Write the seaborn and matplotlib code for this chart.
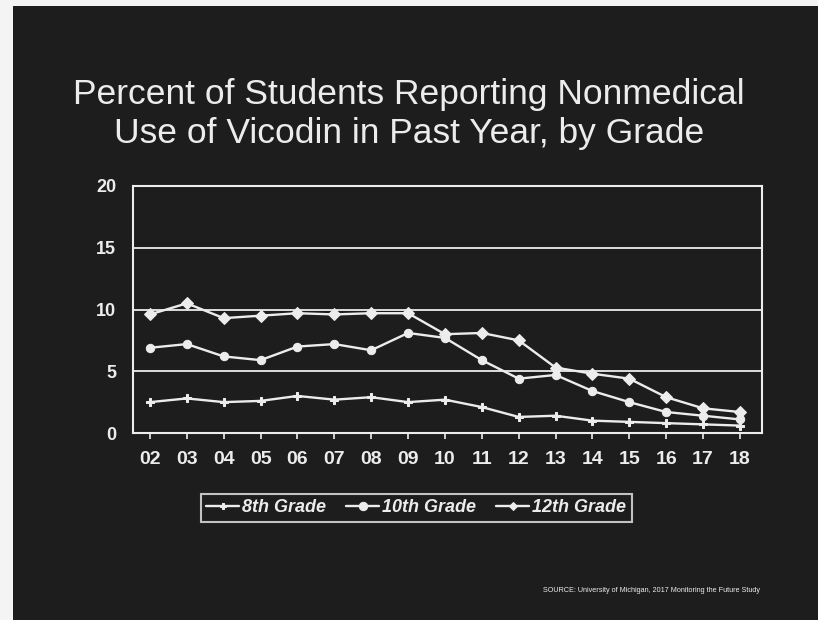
import matplotlib
matplotlib.use("Agg")
import matplotlib.pyplot as plt
from matplotlib.patches import Rectangle
import seaborn as sns
import pandas as pd

years = ["02", "03", "04", "05", "06", "07", "08", "09", "10",
         "11", "12", "13", "14", "15", "16", "17", "18"]
grade8 = [2.5, 2.8, 2.5, 2.6, 3.0, 2.7, 2.9, 2.5, 2.7, 2.1, 1.3, 1.4, 1.0, 0.9, 0.8, 0.7, 0.6]
grade10 = [6.9, 7.2, 6.2, 5.9, 7.0, 7.2, 6.7, 8.1, 7.7, 5.9, 4.4, 4.7, 3.4, 2.5, 1.7, 1.4, 1.1]
grade12 = [9.6, 10.5, 9.3, 9.5, 9.7, 9.6, 9.7, 9.7, 8.0, 8.1, 7.5, 5.3, 4.8, 4.4, 2.9, 2.0, 1.7]
series_names = ["8th Grade", "10th Grade", "12th Grade"]
y_ticks = [0, 5, 10, 15, 20]

df = pd.concat([
    pd.DataFrame({"Year": years, "Percent": vals, "Grade": name})
    for name, vals in zip(series_names, [grade8, grade10, grade12])
])

BG = "#1d1d1d"
FG = "#ececec"

sns.set_theme(style="dark")
plt.rcParams["font.family"] = ["Liberation Sans", "DejaVu Sans"]

fig = plt.figure(figsize=(8.18, 6.2), dpi=100, facecolor=BG)
# light slide margin on the left and top edges
fig.patches.append(Rectangle((0, 0), 13 / 818, 1, transform=fig.transFigure,
                             facecolor="#f4f4f4", edgecolor="none", zorder=0))
fig.patches.append(Rectangle((0, 1 - 6 / 620), 1, 6 / 620, transform=fig.transFigure,
                             facecolor="#f4f4f4", edgecolor="none", zorder=0))

ax = fig.add_axes([0.1626, 0.3016, 0.769, 0.3984])
ax.set_facecolor(BG)

# horizontal reference lines behind the data
for v in y_ticks[1:]:
    ax.axhline(v, color=FG, lw=1.3, zorder=1)

sns.lineplot(
    data=df, x="Year", y="Percent", hue="Grade", style="Grade",
    palette=[FG, FG, FG], markers=["P", "o", "D"], dashes=False,
    markersize=6, linewidth=1.7, markeredgecolor=FG, ax=ax, zorder=3,
)
for line, ms in zip(ax.lines[-3:], [5, 6, 4]):
    line.set_markersize(ms)

ax.set_xlim(-0.46, 16.6)
ax.set_ylim(0, 20)
ax.set_yticks(y_ticks)
ax.set_xlabel("")
ax.set_ylabel("")
ax.grid(False)
for s in ax.spines.values():
    s.set_visible(True)
    s.set_color(FG)
    s.set_linewidth(1.5)

ax.tick_params(axis="x", colors=FG, labelsize=14, length=4, width=1.2,
               direction="out", pad=9, bottom=True)
ax.tick_params(axis="y", colors=FG, labelsize=13, length=0, pad=12)
for lab in ax.get_xticklabels() + ax.get_yticklabels():
    lab.set_fontweight("bold")
    lab.set_color(FG)

handles, labels = ax.get_legend_handles_labels()
if ax.legend_ is not None:
    ax.legend_.remove()
leg = fig.legend(handles[-3:], labels[-3:], loc="center", ncol=3,
                 bbox_to_anchor=(0.509, 0.181), frameon=True,
                 fancybox=False, edgecolor=FG, facecolor=BG,
                 handlelength=1.8, handletextpad=0.2, columnspacing=1.1,
                 borderpad=0.3,
                 prop={"size": 13, "weight": "bold", "style": "italic"})
leg.get_frame().set_linewidth(1.5)
for t in leg.get_texts():
    t.set_color(FG)

fig.text(0.5, 0.816, "Percent of Students Reporting Nonmedical\nUse of Vicodin in Past Year, by Grade",
         ha="center", va="center", color=FG, fontsize=25.5, linespacing=1.2)
fig.text(0.929, 0.048, "SOURCE: University of Michigan, 2017 Monitoring the Future Study",
         ha="right", va="center", color=FG, fontsize=5.2)

fig.savefig("out.png", dpi=100, facecolor=BG)
